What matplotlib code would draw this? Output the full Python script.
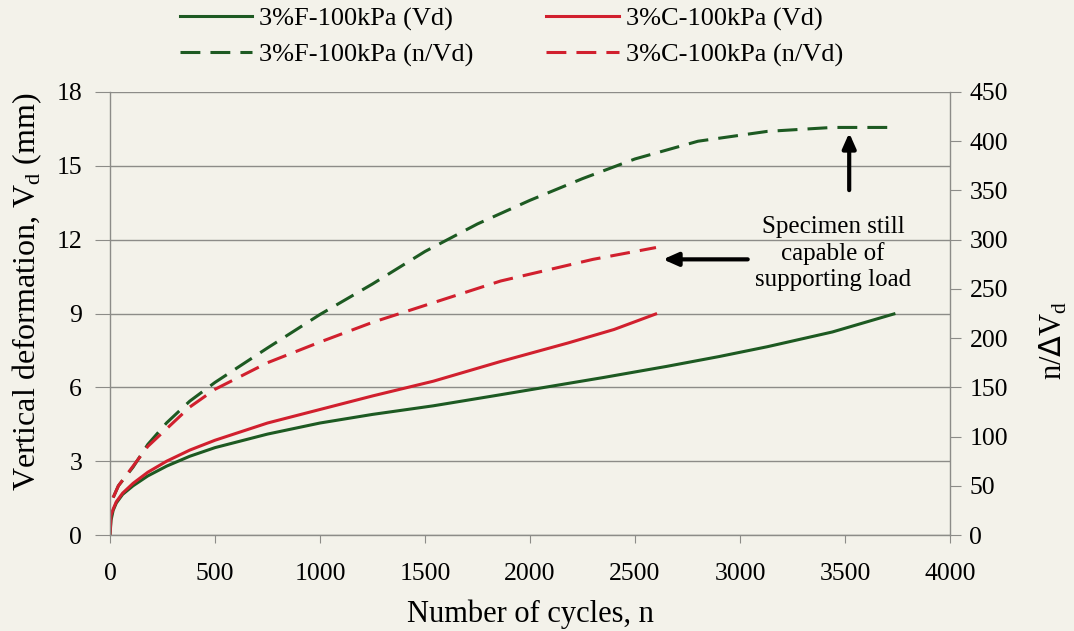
import matplotlib
matplotlib.use("Agg")
import matplotlib.pyplot as plt
from matplotlib.lines import Line2D

# ---- data ----
n_F_vd = [0, 5, 15, 30, 60, 110, 180, 270, 380, 500, 750, 1000, 1250, 1540, 1860, 2000, 2350, 2650, 2900, 3130, 3440, 3740]
vd_F = [0, 0.6, 1.0, 1.3, 1.65, 2.0, 2.4, 2.8, 3.2, 3.55, 4.1, 4.55, 4.9, 5.25, 5.7, 5.9, 6.4, 6.85, 7.25, 7.65, 8.25, 9.0]

n_C_vd = [0, 5, 15, 30, 60, 110, 180, 270, 380, 500, 750, 1000, 1250, 1540, 1860, 2180, 2400, 2605]
vd_C = [0, 0.8, 1.05, 1.35, 1.7, 2.1, 2.55, 3.0, 3.45, 3.85, 4.55, 5.1, 5.65, 6.25, 7.05, 7.8, 8.35, 9.0]

n_F_nvd = [15, 40, 110, 180, 270, 380, 500, 750, 1000, 1250, 1500, 1750, 2000, 2250, 2500, 2800, 3130, 3440, 3720]
nvd_F = [38, 50, 69, 92, 114, 136, 155, 190, 224, 255, 288, 316, 340, 362, 382, 400, 410, 414, 414]

n_C_nvd = [15, 40, 110, 180, 270, 380, 500, 750, 1000, 1250, 1540, 1860, 2000, 2300, 2600]
nvd_C = [38, 50, 70, 90, 108, 130, 148, 175, 196, 216, 236, 258, 265, 280, 292]

labels = ["3%F-100kPa (Vd)", "3%F-100kPa (n/Vd)", "3%C-100kPa (Vd)", "3%C-100kPa (n/Vd)"]
x_ticks = [0, 500, 1000, 1500, 2000, 2500, 3000, 3500, 4000]
y_left_ticks = [0, 3, 6, 9, 12, 15, 18]
y_right_ticks = [0, 50, 100, 150, 200, 250, 300, 350, 400, 450]
note = "Specimen still\ncapable of\nsupporting load"

# ---- style ----
plt.rcParams['font.family'] = ['Liberation Serif', 'DejaVu Serif']
bg = '#f3f2ea'
green = '#1d5a22'
red = '#d1202e'
grid_c = '#8c8c88'
lw = 2.2
dash = (6.5, 3.3)

fig = plt.figure(figsize=(10.74, 6.31), dpi=100, facecolor=bg)
ax = fig.add_axes([110/1074, (631-535)/631, (950-110)/1074, (535-92)/631])
ax.set_facecolor(bg)

ax.plot(n_F_vd, vd_F, color=green, lw=lw, solid_capstyle='butt')
ax.plot(n_C_vd, vd_C, color=red, lw=lw, solid_capstyle='butt')

ax.set_xlim(0, 4000)
ax.set_ylim(0, 18)
ax.set_xticks(x_ticks)
ax.set_yticks(y_left_ticks)
ax.grid(axis='y', color=grid_c, lw=1.0)
ax.set_axisbelow(True)
for s in ['top', 'right']:
    ax.spines[s].set_visible(False)
for s in ['left', 'bottom']:
    ax.spines[s].set_color(grid_c)
    ax.spines[s].set_linewidth(1.0)
ax.tick_params(axis='x', direction='out', length=6, color=grid_c, labelsize=18.5, pad=14)
ax.tick_params(axis='y', direction='out', length=11, color=grid_c, labelsize=18.5, pad=9)
ax.set_xlabel("Number of cycles, n", fontsize=22)
ax.xaxis.set_label_coords(0.5, -0.145, transform=ax.transAxes)
ax.set_ylabel("Vertical deformation, V$_\\mathregular{d}$ (mm)", fontsize=23)
ax.yaxis.set_label_coords(-0.079, 0.549, transform=ax.transAxes)

ax2 = ax.twinx()
ax2.plot(n_F_nvd, nvd_F, color=green, lw=lw, dashes=dash)
ax2.plot(n_C_nvd, nvd_C, color=red, lw=lw, dashes=dash)
ax2.set_ylim(0, 450)
ax2.set_yticks(y_right_ticks)
for s in ['top', 'left', 'bottom']:
    ax2.spines[s].set_visible(False)
ax2.spines['right'].set_color(grid_c)
ax2.spines['right'].set_linewidth(1.0)
ax2.tick_params(axis='y', direction='out', length=8, color=grid_c, labelsize=18.5, pad=6)
ax2.set_ylabel("n/$\\Delta$V$_\\mathregular{d}$", fontsize=22)
ax2.yaxis.set_label_coords(1.105, 0.44, transform=ax2.transAxes)

# annotations (in left-axis data coordinates)
ax.text(3443, 11.45, note, ha='center', va='center', fontsize=18, linespacing=1.22)
ax.annotate("", xy=(3520, 16.45), xytext=(3520, 13.9),
            arrowprops=dict(arrowstyle='-|>,head_length=0.9,head_width=0.4', color='black', lw=3))
ax.annotate("", xy=(2620, 11.2), xytext=(3050, 11.2),
            arrowprops=dict(arrowstyle='-|>,head_length=0.9,head_width=0.4', color='black', lw=3))

# legend
handles = [Line2D([], [], color=green, lw=lw),
           Line2D([], [], color=green, lw=lw, dashes=dash),
           Line2D([], [], color=red, lw=lw),
           Line2D([], [], color=red, lw=lw, dashes=dash)]
fig.legend(handles, labels, ncol=2, loc='upper left', bbox_to_anchor=(177/1074, 0.993),
           frameon=False, fontsize=19, handlelength=2.75, handletextpad=0.27,
           columnspacing=2.75, labelspacing=0.45, borderaxespad=0.0, borderpad=0.1)

fig.savefig("out.png", dpi=100, facecolor=bg)
